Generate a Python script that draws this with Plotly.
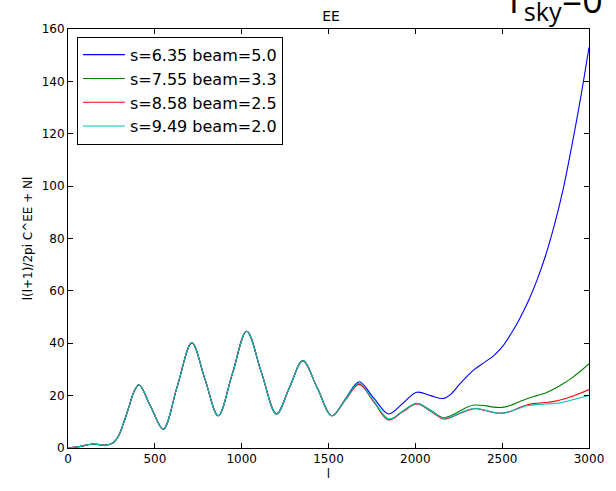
import plotly.graph_objects as go

ell = [0, 60, 143, 219, 260, 290, 320, 350, 380, 409, 478, 548, 630, 713, 789, 865,
       947, 1029, 1114, 1200, 1276, 1352, 1436, 1520, 1598, 1676, 1761, 1846, 1927,
       2008, 2088, 2160, 2200, 2254, 2300, 2340, 2400, 2450, 2500, 2550, 2600, 2650,
       2700, 2750, 2800, 2850, 2900, 2950, 3000]

common = [0, 0.5, 1.5, 1.1, 2.0, 4.5, 9.5, 15.5, 21.5, 24.1, 15.6, 7.2, 23.7, 40.2, 26.2, 12.3,
          28.5, 44.6, 28.8, 13.0, 23.2, 33.3, 22.8, 12.3]

blue_tail = [18.8, 25.3, 19.0, 13.0, 17.0, 21.3, 20.0, 18.9, 20.3, 24.3, 27.5, 30.0, 32.8,
             35.2, 38.6, 43.5, 49.3, 56.0, 64.0, 73.5, 85.0, 98.5, 115.0, 133.0, 153.0]
green_tail = [18.6, 24.6, 17.8, 10.9, 14.0, 17.1, 14.4, 11.6, 12.2, 14.0, 15.7, 16.4, 16.2,
              15.6, 15.5, 16.3, 17.7, 19.0, 20.0, 21.0, 22.6, 24.5, 26.7, 29.3, 32.2]
red_tail = [18.4, 24.3, 17.6, 10.7, 13.8, 16.8, 14.0, 11.1, 11.6, 13.1, 14.3, 15.0, 14.4,
            13.5, 13.3, 14.0, 15.5, 16.6, 17.1, 17.4, 17.8, 18.6, 19.7, 20.9, 22.3]
cyan_tail = [18.5, 24.7, 17.9, 11.1, 14.0, 17.0, 14.2, 11.4, 11.8, 13.3, 14.5, 15.2, 14.5,
             13.6, 13.3, 14.0, 15.2, 16.2, 16.6, 16.8, 17.0, 17.5, 18.3, 19.2, 20.1]

names = ["s=6.35 beam=5.0", "s=7.55 beam=3.3", "s=8.58 beam=2.5", "s=9.49 beam=2.0"]
colors = ["#0000ff", "#008000", "#ff0000", "#00bfbf"]
tails = [blue_tail, green_tail, red_tail, cyan_tail]

x_ticks = [0, 500, 1000, 1500, 2000, 2500, 3000]
y_ticks = [0, 20, 40, 60, 80, 100, 120, 140, 160]

fig = go.Figure()
for name, col, tail in zip(names, colors, tails):
    fig.add_trace(go.Scatter(x=ell, y=common + tail, mode="lines", name=name,
                             line=dict(color=col, width=1.1, shape="spline", smoothing=1)))

W, H = 616, 491
ml, mr, mt, mb = 68, 22, 29, 30
pw, ph = W - ml - mr, H - mt - mb

tickfont = dict(family="DejaVu Sans", size=12, color="black")
fig.update_layout(
    width=W, height=H,
    margin=dict(l=ml, r=mr, t=mt, b=mb),
    plot_bgcolor="white", paper_bgcolor="white",
    title=dict(text="EE", x=(ml + pw / 2) / W, xanchor="center", y=1 - 16.5 / H,
               yanchor="middle", font=dict(family="DejaVu Sans", size=14, color="black")),
    showlegend=True,
    legend=dict(x=(77 - ml) / pw, y=1 - (37 - mt) / ph, xanchor="left", yanchor="top",
                bordercolor="black", borderwidth=1, bgcolor="white",
                font=dict(family="DejaVu Sans", size=16, color="black"),
                tracegroupgap=0, itemwidth=42),
    xaxis=dict(range=[0, 3000], tickvals=x_ticks, ticks="inside", ticklen=5, tickcolor="black",
               showline=True, linecolor="black", linewidth=1, mirror="ticks", showgrid=False,
               zeroline=False, tickfont=tickfont,
               title=dict(text="l", font=dict(family="DejaVu Sans", size=12, color="black"), standoff=4)),
    yaxis=dict(range=[0, 160], tickvals=y_ticks, ticks="inside", ticklen=5, tickcolor="black",
               showline=True, linecolor="black", linewidth=1, mirror="ticks", showgrid=False,
               zeroline=False, tickfont=tickfont,
               title=dict(text="l(l+1)/2pi C^EE + Nl", font=dict(family="DejaVu Sans", size=12, color="black"),
                          standoff=6)),
)

fig.add_annotation(text="T<sub>sky</sub>=0", xref="paper", yref="paper",
                   x=(506 - ml) / pw, y=1 + (mt - 30) / ph, xanchor="left", yanchor="bottom",
                   showarrow=False, font=dict(family="Open Sans", size=36, color="black"))

fig.write_html("out.html")
